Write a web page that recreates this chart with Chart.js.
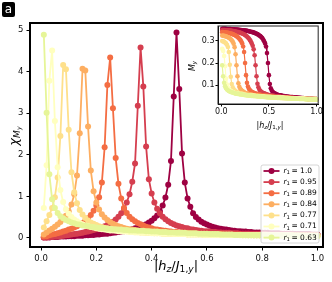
<!DOCTYPE html>
<html>
<head>
<meta charset="utf-8">
<script src="https://cdn.jsdelivr.net/npm/chart.js@4.4.1/dist/chart.umd.min.js"></script>
<style>
  html, body { margin: 0; padding: 0; background: #fff; }
  #wrap { position: relative; width: 332px; height: 282px; overflow: hidden; font-family: "DejaVu Sans", sans-serif; }
  canvas { position: absolute; }
  .lbl { position: absolute; white-space: nowrap; color: #000; line-height: 1; }
  .lbl i { font-style: italic; }
  .lbl sub { font-size: 70%; vertical-align: -0.25em; line-height: 0; }
  #badge { position: absolute; left: 2px; top: 2px; width: 13px; height: 15px; background: #000; border-radius: 2px;
           color: #fff; font-size: 12px; line-height: 14px; text-align: center; }
</style>
</head>
<body>
<div id="wrap">
  <canvas id="main" width="332" height="282" style="left:0;top:0"></canvas>
  <canvas id="inset" width="134" height="112" style="left:190px;top:20px"></canvas>
  <div id="badge">a</div>
  <div class="lbl" style="left:176px;top:265px;font-size:13px;transform:translate(-50%,-50%)">|<i>h</i><sub><i>z</i></sub>/<i>J</i><sub>1,<i>y</i></sub>|</div>
  <div class="lbl" style="left:13px;top:136px;font-size:13px;transform:translate(-50%,-50%) rotate(-90deg)"><i>χ</i><sub><i>M</i><sub><i>y</i></sub></sub></div>
  <div class="lbl" style="left:270px;top:126px;font-size:8px;transform:translate(-50%,-50%)">|<i>h</i><sub><i>z</i></sub>/<i>J</i><sub>1,<i>y</i></sub>|</div>
  <div class="lbl" style="left:193px;top:66px;font-size:8px;transform:translate(-50%,-50%) rotate(-90deg)"><i>M</i><sub><i>y</i></sub></div>
</div>
<script>
// field values |h_z/J_1,y|
const hZ = [0.01,0.02,0.03,0.04,0.05,0.06,0.07,0.08,0.09,0.10,
            0.11,0.12,0.13,0.14,0.15,0.16,0.17,0.18,0.19,0.20,
            0.21,0.22,0.23,0.24,0.25,0.26,0.27,0.28,0.29,0.30,
            0.31,0.32,0.33,0.34,0.35,0.36,0.37,0.38,0.39,0.40,
            0.41,0.42,0.43,0.44,0.45,0.46,0.47,0.48,0.49,0.50,
            0.51,0.52,0.53,0.54,0.55,0.56,0.57,0.58,0.59,0.60,
            0.61,0.62,0.63,0.64,0.65,0.66,0.67,0.68,0.69,0.70,
            0.71,0.72,0.73,0.74,0.75,0.76,0.77,0.78,0.79,0.80,
            0.81,0.82,0.83,0.84,0.85,0.86,0.87,0.88,0.89,0.90,
            0.91,0.92,0.93,0.94,0.95,0.96,0.97,0.98,0.99,1.00];

const rLabels = ['1.0', '0.95', '0.89', '0.84', '0.77', '0.71', '0.63'];
const colors = ['#9e0142', '#d53e4f', '#f46d43', '#fdae61', '#fee08b', '#ffffbf', '#e6f598'];

// susceptibility chi_My
const chiR100 = [0.01,0.01,0.01,0.02,0.02,0.02,0.03,0.03,0.03,0.04,
                 0.04,0.04,0.05,0.05,0.05,0.06,0.06,0.07,0.07,0.08,
                 0.08,0.09,0.10,0.10,0.11,0.12,0.13,0.14,0.15,0.16,
                 0.18,0.19,0.21,0.23,0.25,0.27,0.30,0.33,0.37,0.41,
                 0.47,0.54,0.64,0.78,0.97,1.28,1.85,3.40,4.94,3.58,
                 2.03,1.33,0.95,0.75,0.59,0.50,0.44,0.39,0.35,0.32,
                 0.29,0.27,0.25,0.23,0.22,0.21,0.20,0.19,0.18,0.17,
                 0.16,0.16,0.15,0.15,0.14,0.14,0.13,0.13,0.13,0.12,
                 0.12,0.12,0.11,0.11,0.11,0.11,0.10,0.10,0.10,0.10,
                 0.10,0.09,0.09,0.09,0.09,0.09,0.09,0.08,0.08,0.08];
const chiR095 = [0.01,0.01,0.02,0.02,0.03,0.03,0.04,0.05,0.06,0.07,
                 0.08,0.09,0.10,0.11,0.12,0.14,0.15,0.17,0.19,0.21,
                 0.23,0.25,0.28,0.31,0.35,0.39,0.44,0.51,0.59,0.70,
                 0.85,1.05,1.35,1.79,3.18,4.58,3.64,2.20,1.41,1.07,
                 0.85,0.70,0.59,0.51,0.45,0.40,0.36,0.33,0.30,0.28,
                 0.26,0.24,0.23,0.21,0.20,0.19,0.18,0.17,0.16,0.16,
                 0.15,0.14,0.14,0.13,0.13,0.12,0.12,0.12,0.11,0.11,
                 0.11,0.10,0.10,0.10,0.10,0.09,0.09,0.09,0.09,0.09,
                 0.09,0.08,0.08,0.08,0.08,0.08,0.08,0.08,0.08,0.08,
                 0.08,0.07,0.07,0.07,0.07,0.07,0.07,0.07,0.07,0.07];
const chiR089 = [0.03,0.04,0.06,0.08,0.09,0.11,0.13,0.15,0.17,0.20,
                 0.22,0.25,0.28,0.32,0.36,0.41,0.47,0.55,0.65,0.78,
                 0.98,1.33,2.18,3.68,4.34,3.12,1.92,1.30,0.95,0.72,
                 0.60,0.51,0.45,0.40,0.36,0.33,0.30,0.27,0.25,0.23,
                 0.21,0.20,0.19,0.18,0.17,0.16,0.15,0.14,0.14,0.13,
                 0.13,0.12,0.12,0.11,0.11,0.11,0.10,0.10,0.10,0.10,
                 0.09,0.09,0.09,0.09,0.09,0.08,0.08,0.08,0.08,0.08,
                 0.08,0.08,0.07,0.07,0.07,0.07,0.07,0.07,0.07,0.07,
                 0.07,0.07,0.07,0.06,0.06,0.06,0.06,0.06,0.06,0.06,
                 0.06,0.06,0.06,0.06,0.06,0.06,0.06,0.06,0.06,0.06];
const chiR084 = [0.08,0.13,0.18,0.22,0.27,0.32,0.38,0.45,0.53,0.64,
                 0.80,1.05,1.50,2.52,4.07,4.03,2.68,1.62,1.12,0.85,
                 0.68,0.57,0.49,0.43,0.38,0.34,0.31,0.28,0.26,0.24,
                 0.22,0.21,0.20,0.19,0.18,0.17,0.16,0.16,0.15,0.14,
                 0.14,0.13,0.13,0.12,0.12,0.12,0.11,0.11,0.11,0.10,
                 0.10,0.10,0.10,0.09,0.09,0.09,0.09,0.09,0.08,0.08,
                 0.08,0.08,0.08,0.08,0.08,0.07,0.07,0.07,0.07,0.07,
                 0.07,0.07,0.07,0.07,0.07,0.07,0.06,0.06,0.06,0.06,
                 0.06,0.06,0.06,0.06,0.06,0.06,0.06,0.06,0.06,0.06,
                 0.06,0.06,0.06,0.06,0.06,0.05,0.05,0.05,0.05,0.05];
const chiR077 = [0.25,0.40,0.55,0.72,0.98,1.45,2.45,4.16,4.06,2.60,
                 1.58,1.10,0.83,0.67,0.56,0.48,0.42,0.37,0.34,0.31,
                 0.28,0.26,0.24,0.23,0.21,0.20,0.19,0.18,0.17,0.17,
                 0.16,0.15,0.15,0.14,0.14,0.13,0.13,0.12,0.12,0.12,
                 0.11,0.11,0.11,0.10,0.10,0.10,0.10,0.09,0.09,0.09,
                 0.09,0.09,0.08,0.08,0.08,0.08,0.08,0.08,0.07,0.07,
                 0.07,0.07,0.07,0.07,0.07,0.07,0.07,0.07,0.07,0.07,
                 0.07,0.07,0.06,0.06,0.06,0.06,0.06,0.06,0.06,0.06,
                 0.06,0.06,0.06,0.06,0.06,0.06,0.06,0.06,0.06,0.06,
                 0.06,0.05,0.05,0.05,0.05,0.05,0.05,0.05,0.05,0.05];
const chiR071 = [0.72,1.75,3.78,4.51,2.81,1.70,1.15,0.86,0.69,0.58,
                 0.50,0.44,0.40,0.36,0.33,0.30,0.28,0.26,0.25,0.23,
                 0.22,0.21,0.20,0.19,0.18,0.18,0.17,0.16,0.16,0.15,
                 0.15,0.14,0.14,0.13,0.13,0.13,0.12,0.12,0.12,0.11,
                 0.11,0.11,0.11,0.10,0.10,0.10,0.10,0.09,0.09,0.09,
                 0.09,0.09,0.08,0.08,0.08,0.08,0.08,0.08,0.07,0.07,
                 0.07,0.07,0.07,0.07,0.07,0.07,0.07,0.07,0.07,0.07,
                 0.07,0.06,0.06,0.06,0.06,0.06,0.06,0.06,0.06,0.06,
                 0.06,0.06,0.06,0.06,0.06,0.06,0.06,0.06,0.06,0.06,
                 0.05,0.05,0.05,0.05,0.05,0.05,0.05,0.05,0.05,0.05];
const chiR063 = [4.89,3.01,1.53,0.93,0.72,0.60,0.52,0.47,0.43,0.40,
                 0.37,0.35,0.33,0.32,0.30,0.29,0.28,0.27,0.26,0.25,
                 0.24,0.24,0.23,0.22,0.22,0.21,0.21,0.20,0.20,0.19,
                 0.19,0.18,0.18,0.18,0.17,0.17,0.17,0.16,0.16,0.15,
                 0.15,0.15,0.14,0.14,0.14,0.13,0.13,0.13,0.12,0.12,
                 0.12,0.12,0.11,0.11,0.11,0.11,0.10,0.10,0.10,0.10,
                 0.09,0.09,0.09,0.09,0.08,0.08,0.08,0.08,0.08,0.07,
                 0.07,0.07,0.07,0.07,0.06,0.06,0.06,0.06,0.06,0.06,
                 0.05,0.05,0.05,0.05,0.05,0.05,0.05,0.05,0.05,0.05,
                 0.05,0.05,0.04,0.04,0.04,0.04,0.04,0.04,0.04,0.04];

// magnetization M_y (inset)
const myR100 = [0.355,0.355,0.355,0.355,0.355,0.354,0.354,0.354,0.354,0.354,
                0.353,0.353,0.353,0.353,0.352,0.352,0.352,0.351,0.351,0.350,
                0.350,0.349,0.349,0.348,0.347,0.347,0.346,0.345,0.344,0.343,
                0.342,0.341,0.340,0.338,0.337,0.335,0.333,0.331,0.328,0.325,
                0.322,0.318,0.313,0.307,0.299,0.289,0.275,0.245,0.200,0.145,
                0.105,0.085,0.075,0.069,0.065,0.062,0.060,0.058,0.056,0.055,
                0.054,0.053,0.052,0.051,0.050,0.050,0.049,0.048,0.048,0.047,
                0.047,0.046,0.046,0.045,0.045,0.044,0.044,0.044,0.043,0.043,
                0.042,0.042,0.042,0.041,0.041,0.041,0.040,0.040,0.040,0.039,
                0.039,0.039,0.038,0.038,0.038,0.038,0.037,0.037,0.037,0.036];
const myR095 = [0.350,0.350,0.350,0.349,0.349,0.349,0.348,0.348,0.347,0.347,
                0.346,0.345,0.345,0.344,0.343,0.342,0.341,0.340,0.339,0.337,
                0.336,0.334,0.332,0.330,0.327,0.324,0.320,0.316,0.311,0.305,
                0.298,0.289,0.278,0.262,0.235,0.190,0.140,0.106,0.090,0.080,
                0.073,0.069,0.066,0.064,0.062,0.060,0.059,0.057,0.056,0.055,
                0.054,0.053,0.052,0.051,0.051,0.050,0.049,0.049,0.048,0.048,
                0.047,0.047,0.046,0.046,0.045,0.045,0.045,0.044,0.044,0.043,
                0.043,0.043,0.042,0.042,0.042,0.041,0.041,0.041,0.040,0.040,
                0.040,0.040,0.039,0.039,0.039,0.039,0.038,0.038,0.038,0.038,
                0.037,0.037,0.037,0.037,0.036,0.036,0.036,0.036,0.035,0.035];
const myR089 = [0.340,0.340,0.339,0.339,0.338,0.338,0.337,0.336,0.335,0.334,
                0.333,0.331,0.329,0.327,0.325,0.322,0.319,0.315,0.310,0.305,
                0.298,0.289,0.275,0.250,0.200,0.145,0.110,0.093,0.083,0.077,
                0.072,0.069,0.067,0.065,0.063,0.061,0.060,0.059,0.058,0.057,
                0.056,0.055,0.054,0.053,0.053,0.052,0.051,0.051,0.050,0.050,
                0.049,0.049,0.048,0.048,0.047,0.047,0.046,0.046,0.046,0.045,
                0.045,0.045,0.044,0.044,0.044,0.043,0.043,0.043,0.042,0.042,
                0.042,0.042,0.041,0.041,0.041,0.041,0.040,0.040,0.040,0.040,
                0.039,0.039,0.039,0.039,0.038,0.038,0.038,0.038,0.038,0.037,
                0.037,0.037,0.037,0.037,0.036,0.036,0.036,0.036,0.036,0.036];
const myR084 = [0.325,0.324,0.323,0.322,0.321,0.319,0.317,0.315,0.312,0.308,
                0.303,0.297,0.288,0.272,0.240,0.190,0.140,0.108,0.092,0.083,
                0.077,0.073,0.070,0.067,0.065,0.063,0.062,0.060,0.059,0.058,
                0.057,0.056,0.055,0.054,0.054,0.053,0.052,0.052,0.051,0.051,
                0.050,0.050,0.049,0.049,0.048,0.048,0.048,0.047,0.047,0.046,
                0.046,0.046,0.045,0.045,0.045,0.044,0.044,0.044,0.044,0.043,
                0.043,0.043,0.043,0.042,0.042,0.042,0.042,0.041,0.041,0.041,
                0.041,0.041,0.040,0.040,0.040,0.040,0.040,0.039,0.039,0.039,
                0.039,0.039,0.038,0.038,0.038,0.038,0.038,0.038,0.037,0.037,
                0.037,0.037,0.037,0.037,0.036,0.036,0.036,0.036,0.036,0.036];
const myR077 = [0.300,0.298,0.296,0.293,0.289,0.283,0.273,0.250,0.192,0.138,
                0.105,0.090,0.081,0.076,0.072,0.069,0.067,0.065,0.063,0.062,
                0.061,0.060,0.059,0.058,0.057,0.056,0.055,0.055,0.054,0.053,
                0.053,0.052,0.052,0.051,0.051,0.050,0.050,0.050,0.049,0.049,
                0.048,0.048,0.048,0.047,0.047,0.047,0.046,0.046,0.046,0.045,
                0.045,0.045,0.045,0.044,0.044,0.044,0.044,0.043,0.043,0.043,
                0.043,0.042,0.042,0.042,0.042,0.041,0.041,0.041,0.041,0.041,
                0.040,0.040,0.040,0.040,0.040,0.039,0.039,0.039,0.039,0.039,
                0.039,0.038,0.038,0.038,0.038,0.038,0.038,0.037,0.037,0.037,
                0.037,0.037,0.037,0.036,0.036,0.036,0.036,0.036,0.036,0.035];
const myR071 = [0.265,0.255,0.232,0.185,0.130,0.102,0.089,0.081,0.076,0.072,
                0.070,0.068,0.066,0.064,0.063,0.062,0.061,0.060,0.059,0.058,
                0.057,0.057,0.056,0.055,0.055,0.054,0.054,0.053,0.053,0.052,
                0.052,0.051,0.051,0.051,0.050,0.050,0.049,0.049,0.049,0.048,
                0.048,0.048,0.047,0.047,0.047,0.046,0.046,0.046,0.046,0.045,
                0.045,0.045,0.044,0.044,0.044,0.044,0.043,0.043,0.043,0.043,
                0.042,0.042,0.042,0.042,0.042,0.041,0.041,0.041,0.041,0.041,
                0.040,0.040,0.040,0.040,0.040,0.039,0.039,0.039,0.039,0.039,
                0.039,0.038,0.038,0.038,0.038,0.038,0.038,0.037,0.037,0.037,
                0.037,0.037,0.037,0.036,0.036,0.036,0.036,0.036,0.036,0.035];
const myR063 = [0.190,0.140,0.110,0.095,0.086,0.080,0.076,0.073,0.071,0.069,
                0.067,0.066,0.065,0.063,0.062,0.061,0.060,0.060,0.059,0.058,
                0.057,0.057,0.056,0.055,0.055,0.054,0.054,0.053,0.053,0.052,
                0.052,0.051,0.051,0.050,0.050,0.050,0.049,0.049,0.048,0.048,
                0.048,0.047,0.047,0.047,0.046,0.046,0.046,0.045,0.045,0.045,
                0.045,0.044,0.044,0.044,0.043,0.043,0.043,0.043,0.042,0.042,
                0.042,0.042,0.041,0.041,0.041,0.041,0.040,0.040,0.040,0.040,
                0.040,0.039,0.039,0.039,0.039,0.039,0.038,0.038,0.038,0.038,
                0.038,0.037,0.037,0.037,0.037,0.037,0.037,0.036,0.036,0.036,
                0.036,0.036,0.036,0.035,0.035,0.035,0.035,0.035,0.035,0.034];

const chiSeries = [chiR100, chiR095, chiR089, chiR084, chiR077, chiR071, chiR063];
const mySeries = [myR100, myR095, myR089, myR084, myR077, myR071, myR063];

const mainXTicks = [0.0, 0.2, 0.4, 0.6, 0.8, 1.0];
const mainYTicks = [0, 1, 2, 3, 4, 5];
const insetXTicks = [0.0, 0.5, 1.0];
const insetYTicks = [0.1, 0.2, 0.3];

const FONT = 'DejaVu Sans';

function makeSets(series, lw, rad) {
  return series.map((vals, k) => ({
    label: 'r1 = ' + rLabels[k],
    data: hZ.map((x, i) => ({ x: x, y: vals[i] })),
    borderColor: colors[k],
    backgroundColor: colors[k],
    borderWidth: lw,
    pointRadius: rad,
    pointBorderWidth: 0,
    pointHoverRadius: rad,
    order: series.length - 1 - k,   // last one on top, like matplotlib
    tension: 0
  }));
}

// black box round the axes
const frame = {
  id: 'frame',
  afterDatasetsDraw(chart, args, opts) {
    const a = chart.chartArea, c = chart.ctx;
    c.save();
    c.strokeStyle = opts.color;
    c.lineWidth = opts.width;
    c.strokeRect(a.left, a.top, a.right - a.left, a.bottom - a.top);
    c.restore();
  }
};

const whiteBg = {
  id: 'whiteBg',
  beforeDraw(chart) {
    const a = chart.chartArea, c = chart.ctx;
    c.save();
    c.fillStyle = '#fff';
    c.fillRect(a.left, a.top, a.right - a.left, a.bottom - a.top);
    c.restore();
  }
};

// matplotlib-like legend in lower right
const rLegend = {
  id: 'rLegend',
  afterDraw(chart) {
    const c = chart.ctx;
    const x0 = 261, y0 = 165, w = 58, h = 78;
    c.save();
    c.globalAlpha = 0.8;
    c.fillStyle = '#fff';
    c.beginPath();
    c.roundRect(x0, y0, w, h, 2);
    c.fill();
    c.globalAlpha = 1;
    c.strokeStyle = '#cccccc';
    c.lineWidth = 0.8;
    c.stroke();
    chart.data.datasets.forEach((ds, k) => {
      const y = 171 + k * 11.1;
      c.strokeStyle = ds.borderColor;
      c.lineWidth = 1.8;
      c.beginPath();
      c.moveTo(263.5, y);
      c.lineTo(279.5, y);
      c.stroke();
      c.fillStyle = ds.borderColor;
      c.beginPath();
      c.arc(271.5, y, 3, 0, Math.PI * 2);
      c.fill();
      c.fillStyle = '#000';
      c.textBaseline = 'middle';
      let tx = 283.5;
      c.font = 'italic 7.5px "' + FONT + '"';
      c.fillText('r', tx, y);
      tx += c.measureText('r').width;
      c.font = '5.3px "' + FONT + '"';
      c.fillText('1', tx, y + 1.8);
      tx += c.measureText('1').width + 1.5;
      c.font = '7.5px "' + FONT + '"';
      c.fillText('= ' + rLabels[k], tx, y);
    });
    c.restore();
  }
};

function axis(min, max, ticks, fmt, fit, fitSize, fontSize, tickLen, pad, borderW) {
  return {
    type: 'linear', min: min, max: max,
    afterBuildTicks: s => { s.ticks = ticks.map(v => ({ value: v })); },
    afterFit: s => { s[fit] = fitSize; },
    ticks: { callback: fmt, font: { size: fontSize, family: FONT }, color: '#111', padding: pad,
             maxRotation: 0, autoSkip: false },
    grid: { drawOnChartArea: false, tickLength: tickLen, tickWidth: 1, tickColor: '#000' },
    border: { color: '#000', width: borderW }
  };
}

new Chart(document.getElementById('main'), {
  type: 'line',
  data: { datasets: makeSets(chiSeries, 1.8, 3.0) },
  options: {
    responsive: false, animation: false, events: [],
    layout: { padding: { top: 23, right: 9, left: 0, bottom: 0 } },
    plugins: { legend: { display: false }, tooltip: { enabled: false }, frame: { color: '#000', width: 2 } },
    scales: {
      x: axis(-0.04, 1.02, mainXTicks, v => v.toFixed(1), 'height', 35, 8.5, 3.5, 3, 2),
      y: axis(-0.22, 5.17, mainYTicks, v => String(v), 'width', 30, 8.5, 3.5, 3, 2)
    }
  },
  plugins: [frame, rLegend]
});

new Chart(document.getElementById('inset'), {
  type: 'line',
  data: { datasets: makeSets(mySeries, 1.2, 2.3) },
  options: {
    responsive: false, animation: false, events: [],
    layout: { padding: { top: 6, right: 5, left: 0, bottom: 0 } },
    plugins: { legend: { display: false }, tooltip: { enabled: false }, frame: { color: '#222', width: 1 } },
    scales: {
      x: axis(-0.034, 1.017, insetXTicks, v => v.toFixed(1), 'height', 28, 8, 2.5, 1, 1),
      y: axis(0.014, 0.368, insetYTicks, v => v.toFixed(1), 'width', 28, 8, 2.5, 1, 1)
    }
  },
  plugins: [whiteBg, frame]
});
</script>
</body>
</html>
